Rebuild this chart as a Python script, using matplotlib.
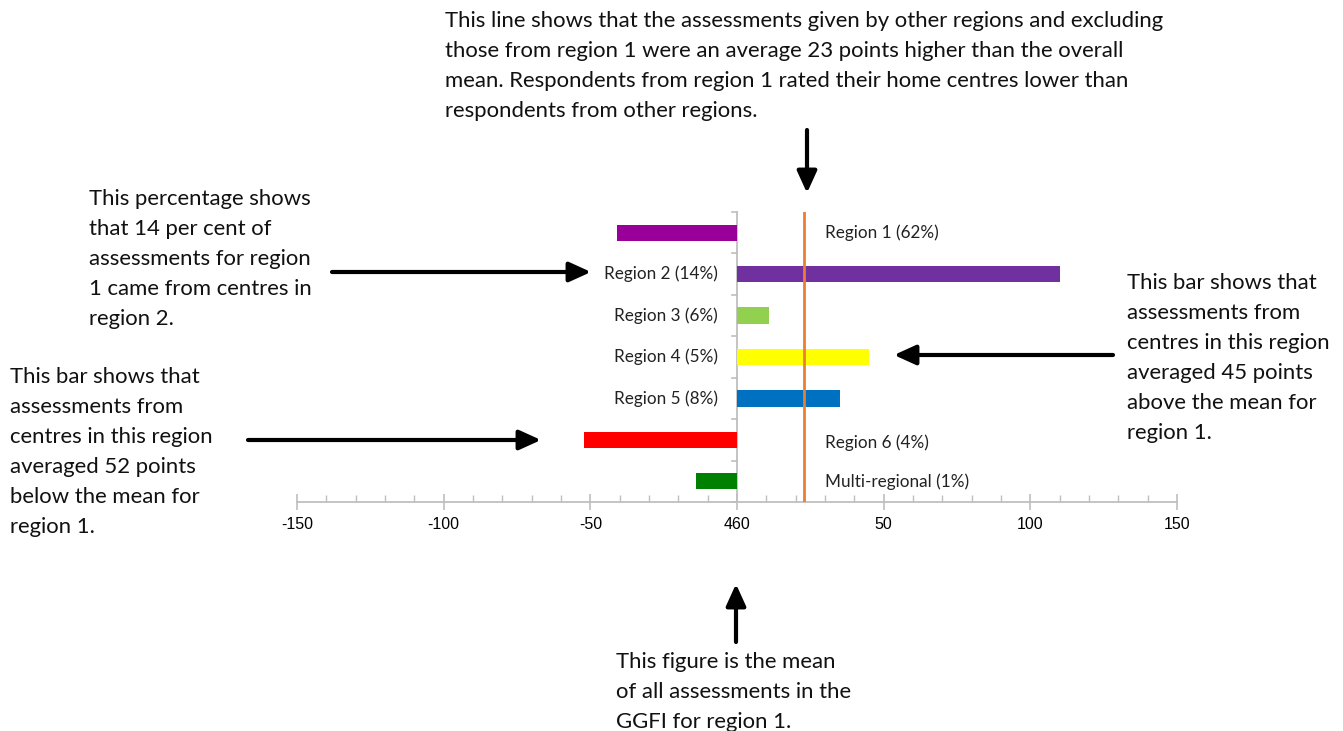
import matplotlib
matplotlib.use("Agg")
import matplotlib.pyplot as plt
from matplotlib.ticker import MultipleLocator, FixedLocator

# Deviation from the region 1 mean, by origin of assessment
categories = ["Region 1 (62%)", "Region 2 (14%)", "Region 3 (6%)", "Region 4 (5%)",
              "Region 5 (8%)", "Region 6 (4%)", "Multi-regional (1%)"]
deviations = [-41, 110, 11, 45, 35, -52, -14]
bar_colors = ["#990099", "#7030A0", "#92D050", "#FFFF00", "#0070C0", "#FF0000", "#008000"]
others_mean_offset = 23
overall_mean = 460
xticks = [-150, -100, -50, 0, 50, 100, 150]
xtick_labels = ["-150", "-100", "-50", "460", "50", "100", "150"]

W, H = 1343, 731
fig = plt.figure(figsize=(W / 100, H / 100), dpi=100)
fig.patch.set_facecolor("white")

def fx(px):
    return px / W

def fy(py):
    return 1 - py / H

ax = fig.add_axes([fx(297), fy(502), fx(1177) - fx(297), fy(212) - fy(502)])
ypos = list(range(len(categories)))
ax.barh(ypos, deviations, height=0.39, color=bar_colors, zorder=2)
ax.axvline(others_mean_offset, color="#ED7D31", lw=2, zorder=3)

ax.set_xlim(-150, 150)
ax.set_ylim(len(categories) - 0.5, -0.5)

for s in ["top", "right", "left"]:
    ax.spines[s].set_visible(False)
ax.spines["bottom"].set_color("#BFBFBF")
ax.spines["bottom"].set_linewidth(1.3)

# vertical axis through zero
ax.plot([0, 0], [len(categories) - 0.5, -0.5], color="#BFBFBF", lw=1.3, zorder=1,
        clip_on=False)
for b in range(len(categories) + 1):
    yb = b - 0.5
    ax.plot([-1.8, 0], [yb, yb], color="#BFBFBF", lw=1.2, clip_on=False)

ax.set_yticks([])
ax.xaxis.set_major_locator(FixedLocator(xticks))
ax.set_xticklabels(xtick_labels, fontfamily="Liberation Sans", fontsize=11.5)
ax.xaxis.set_minor_locator(MultipleLocator(10))
ax.tick_params(axis="x", which="major", direction="inout", length=12, width=1.2,
               color="#BFBFBF", pad=5)
ax.tick_params(axis="x", which="minor", direction="in", length=5, width=1.0,
               color="#BFBFBF")

label_font = dict(fontfamily="Lato", fontsize=12.3, color="#222222")
for i, (name, v) in enumerate(zip(categories, deviations)):
    if v < 0:
        dy = 0.07 if i == 5 else 0.0
        ax.text(30, i + dy, name, ha="left", va="center", **label_font)
    else:
        ax.text(-6.5, i, name, ha="right", va="center", **label_font)

note_font = dict(fontfamily="Lato", fontsize=15.9, color="#111111", linespacing=1.63)

fig.text(fx(445), fy(11),
         "This line shows that the assessments given by other regions and excluding\n"
         "those from region 1 were an average 23 points higher than the overall\n"
         "mean. Respondents from region 1 rated their home centres lower than\n"
         "respondents from other regions.",
         ha="left", va="top", **note_font)
fig.text(fx(89), fy(189),
         "This percentage shows\nthat 14 per cent of\nassessments for region\n"
         "1 came from centres in\nregion 2.",
         ha="left", va="top", **note_font)
fig.text(fx(10), fy(367),
         "This bar shows that\nassessments from\ncentres in this region\n"
         "averaged 52 points\nbelow the mean for\nregion 1.",
         ha="left", va="top", **note_font)
fig.text(fx(1127), fy(273),
         "This bar shows that\nassessments from\ncentres in this region\n"
         "averaged 45 points\nabove the mean for\nregion 1.",
         ha="left", va="top", **note_font)
fig.text(fx(616), fy(652),
         "This figure is the mean\nof all assessments in the\nGGFI for region 1.",
         ha="left", va="top", **note_font)

arrow_style = dict(arrowstyle="-|>,head_length=1.1,head_width=0.5", color="black",
                   lw=3, shrinkA=0, shrinkB=0, mutation_scale=12)
arrows = [((807, 130), (807, 193)),
          ((332, 272), (591, 272)),
          ((248, 440), (541, 440)),
          ((1113, 355), (894, 355)),
          ((736, 642), (736, 584))]
for (x0, y0), (x1, y1) in arrows:
    fig.add_artist(matplotlib.patches.FancyArrowPatch(
        (fx(x0), fy(y0)), (fx(x1), fy(y1)), transform=fig.transFigure, **arrow_style))

fig.savefig("out.png", dpi=100, facecolor="white")
